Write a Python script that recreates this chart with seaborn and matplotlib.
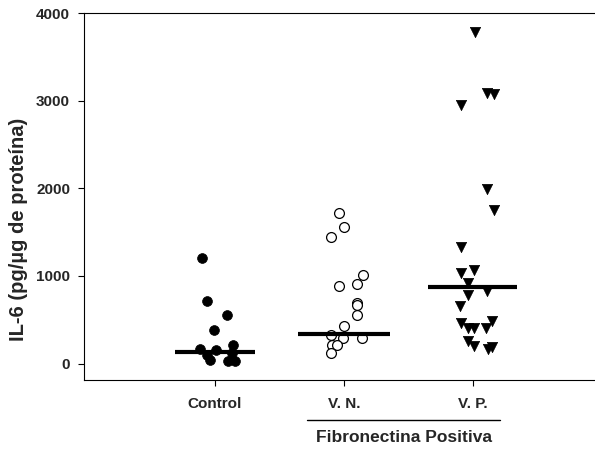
import numpy as np
import pandas as pd
import matplotlib
matplotlib.use("Agg")
import matplotlib.pyplot as plt
import seaborn as sns

# ---- data ----
groups = ["Control", "V. N.", "V. P."]

control_vals = [1204, 718, 550, 384, 160, 100, 150, 215, 120, 25, 25, 45]
control_offsets = [-0.10, -0.06, 0.09, -0.01, -0.12, -0.06, 0.01, 0.14, 0.13, 0.10, 0.155, -0.04]

vn_vals = [1717, 1558, 1447, 1006, 904, 885, 691, 672, 550, 425, 330, 292, 292, 216, 216, 122]
vn_offsets = [-0.04, 0.0, -0.10, 0.15, 0.10, -0.04, 0.10, 0.10, 0.10, 0.0, -0.10, -0.01, 0.14, -0.09, -0.05, -0.10]

vp_vals = [3787, 3092, 3073, 2952, 1994, 1747, 1329, 1033, 1063, 919, 786, 823, 653,
           464, 406, 406, 406, 482, 254, 197, 160, 190]
vp_offsets = [0.02, 0.11, 0.165, -0.09, 0.11, 0.165, -0.09, -0.09, 0.01, -0.04, -0.04, 0.11, -0.10,
              -0.09, -0.04, 0.01, 0.10, 0.15, -0.04, 0.01, 0.12, 0.15]

medians = [137, 342, 874]
median_halfwidth = [0.31, 0.36, 0.345]

rows = []
for g, vals, offs in [(0, control_vals, control_offsets), (1, vn_vals, vn_offsets), (2, vp_vals, vp_offsets)]:
    for v, o in zip(vals, offs):
        rows.append({"group": groups[g], "pos": g + o, "value": v})
df = pd.DataFrame(rows)

# ---- plot ----
sns.set_theme(style="ticks")
plt.rcParams['font.family'] = ['Liberation Sans', 'DejaVu Sans']
plt.rcParams['font.weight'] = 'bold'

fig = plt.figure(figsize=(5.95, 4.49), dpi=100)
ax = fig.add_axes([0.1412, 0.1537, 0.8588, 0.8173])

sns.scatterplot(data=df[df.group == "Control"], x="pos", y="value", marker="o", s=50,
                color="black", edgecolor="black", linewidth=0.5, ax=ax, zorder=3)
sns.scatterplot(data=df[df.group == "V. N."], x="pos", y="value", marker="o", s=50,
                facecolor="white", edgecolor="black", linewidth=0.9, ax=ax, zorder=3)
sns.scatterplot(data=df[df.group == "V. P."], x="pos", y="value", marker="v", s=55,
                color="black", edgecolor="black", linewidth=0.5, ax=ax, zorder=3)

for i, (m, hw) in enumerate(zip(medians, median_halfwidth)):
    ax.hlines(m, i - hw, i + hw, color="black", linewidth=3, zorder=4)

ax.set_xlim(-1.017, 2.949)
ax.set_ylim(-188, 4000)
ax.set_xticks(range(len(groups)))
ax.set_xticklabels(groups, fontsize=11, fontweight="bold")
ax.set_yticks([0, 1000, 2000, 3000, 4000])
ax.set_yticklabels(["0", "1000", "2000", "3000", "4000"], fontsize=11, fontweight="bold")
ax.tick_params(axis="both", direction="out", length=4, width=0.8, color="black")
ax.tick_params(axis="x", pad=8)
ax.tick_params(axis="y", pad=6)
ax.set_xlabel("")
ax.set_ylabel("IL-6 (pg/\u00b5g de proteína)", fontsize=14.5, fontweight="bold")
ax.yaxis.set_label_coords(-0.11, 0.41)

for side in ["left", "bottom", "top"]:
    ax.spines[side].set_color("black")
    ax.spines[side].set_linewidth(0.8)
ax.spines["right"].set_visible(False)

# group bracket under V. N. / V. P.
fig.lines.append(plt.Line2D([306.7 / 595, 500 / 595], [1 - 420 / 449, 1 - 420 / 449],
                            transform=fig.transFigure, color="black", linewidth=1.0))
fig.text(404 / 595, 1 - 438 / 449, "Fibronectina Positiva", ha="center", va="center",
         fontsize=12.5, fontweight="bold")

fig.savefig("out.png", dpi=100)
